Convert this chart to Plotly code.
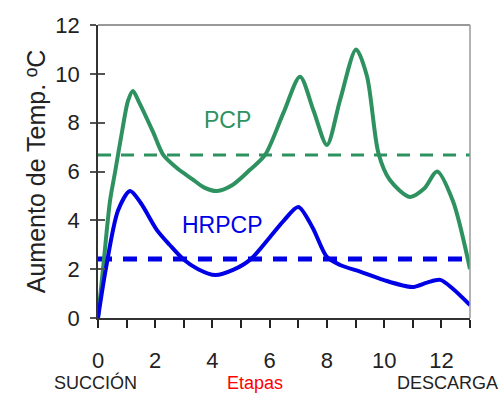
import plotly.graph_objects as go

# Data
pcp_x = [0, 0.2, 0.42, 0.6, 0.85, 1.05, 1.22, 1.45, 1.93, 2.28, 2.8, 3.28, 3.7, 4.16, 4.7, 5.31, 5.84, 6.48, 7.06, 7.53, 8.0, 8.46, 9.02, 9.4, 9.8, 10.2, 10.9, 11.4, 11.85, 12.4, 13]
pcp_y = [0, 2.3, 4.8, 6.0, 7.7, 8.9, 9.3, 8.8, 7.6, 6.68, 6.1, 5.7, 5.35, 5.2, 5.45, 6.07, 6.68, 8.4, 9.88, 8.5, 7.09, 8.93, 11.0, 9.9, 6.75, 5.65, 4.96, 5.3, 6.0, 4.8, 2.0]

hrpcp_x = [0, 0.28, 0.7, 1.12, 1.5, 2.06, 2.5, 2.97, 3.5, 4.1, 4.72, 5.31, 6.0, 6.5, 7.0, 7.5, 8.0, 8.46, 9.16, 9.97, 10.98, 11.5, 11.96, 12.4, 13]
hrpcp_y = [0, 2.05, 4.4, 5.2, 4.7, 3.6, 3.0, 2.42, 2.0, 1.76, 1.97, 2.38, 3.3, 4.0, 4.55, 3.7, 2.5, 2.17, 1.9, 1.56, 1.27, 1.45, 1.56, 1.2, 0.53]

pcp_mean = 6.68
hrpcp_mean = 2.42
x_limits = [0, 13]

x_tick_vals = [0, 2, 4, 6, 8, 10, 12]
y_tick_vals = [0, 2, 4, 6, 8, 10, 12]

green = "#2e9160"
blue = "#0000e6"
font_family = "Liberation Sans, Arial, sans-serif"

fig = go.Figure()

fig.add_trace(go.Scatter(x=x_limits, y=[pcp_mean, pcp_mean], mode="lines",
                         line=dict(color=green, width=3, dash="13px,10px"),
                         showlegend=False, hoverinfo="skip"))
fig.add_trace(go.Scatter(x=x_limits, y=[hrpcp_mean, hrpcp_mean], mode="lines",
                         line=dict(color=blue, width=5, dash="14px,11px"),
                         showlegend=False, hoverinfo="skip"))
fig.add_trace(go.Scatter(x=pcp_x, y=pcp_y, mode="lines",
                         line=dict(color=green, width=4, shape="spline", smoothing=0.8),
                         name="PCP", showlegend=False))
fig.add_trace(go.Scatter(x=hrpcp_x, y=hrpcp_y, mode="lines",
                         line=dict(color=blue, width=4, shape="spline", smoothing=0.8),
                         name="HRPCP", showlegend=False))

# secondary axis to draw inward part of y ticks
fig.add_trace(go.Scatter(x=[None], y=[None], yaxis="y2", showlegend=False))

fig.update_layout(
    width=499, height=395,
    margin=dict(l=98, r=29, t=25, b=77),
    paper_bgcolor="white", plot_bgcolor="white",
    font=dict(family=font_family, color="#222"),
    xaxis=dict(range=x_limits, tickvals=x_tick_vals, ticks="outside", ticklen=8,
               tickwidth=1.5, tickcolor="#222", showline=True, linecolor="#333",
               linewidth=1.5, showgrid=False, zeroline=False,
               tickfont=dict(size=22, color="#222"), ticklabelstandoff=14,
               minor=dict(dtick=1, ticks="outside", ticklen=8, tickwidth=1.5, tickcolor="#222")),
    yaxis=dict(range=[0, 12], tickvals=y_tick_vals, ticks="outside", ticklen=6,
               tickwidth=1.5, tickcolor="#555", showline=True, linecolor="#333",
               linewidth=1.5, showgrid=False, zeroline=False,
               tickfont=dict(size=22, color="#222"), ticklabelstandoff=6,
               title=dict(text="Aumento de Temp. ºC", font=dict(size=25, color="#222"), standoff=3)),
    yaxis2=dict(range=[0, 12], overlaying="y", side="left", tickvals=y_tick_vals,
                ticks="inside", ticklen=7, tickwidth=1.5, tickcolor="#555",
                showticklabels=False, showline=False, showgrid=False, zeroline=False),
)

# plot frame (top and right borders)
fig.add_shape(type="line", xref="paper", yref="paper", x0=0, x1=1, y0=1, y1=1,
              line=dict(color="#777", width=1.5))
fig.add_shape(type="line", xref="paper", yref="paper", x0=1, x1=1, y0=0, y1=1,
              line=dict(color="#999", width=1.5))

# in-plot labels
fig.add_annotation(x=4.51, y=8.11, text="PCP", showarrow=False,
                   font=dict(size=23, color=green, family=font_family))
fig.add_annotation(x=4.34, y=3.81, text="HRPCP", showarrow=False,
                   font=dict(size=23, color=blue, family=font_family))

# labels under the x axis
def px_to_paper(px, py):
    return (px - 98) / 372, (318 - py) / 293

sx, sy = px_to_paper(95, 382)
fig.add_annotation(x=sx, y=sy, xref="paper", yref="paper", text="SUCCIÓN",
                   showarrow=False, xanchor="center", yanchor="middle",
                   font=dict(size=18, color="#222"))
ex, ey = px_to_paper(255, 383)
fig.add_annotation(x=ex, y=ey, xref="paper", yref="paper", text="Etapas",
                   showarrow=False, xanchor="center", yanchor="middle",
                   font=dict(size=18, color="#ff0000"))
dx, dy = px_to_paper(395, 383)
fig.add_annotation(x=dx, y=dy, xref="paper", yref="paper", text="DESCARGA",
                   showarrow=False, xanchor="left", yanchor="middle",
                   font=dict(size=18, color="#222"))

fig.write_html("out.html", config={"displayModeBar": False},
               post_script="document.body.style.margin='0';document.body.style.overflow='hidden';")
